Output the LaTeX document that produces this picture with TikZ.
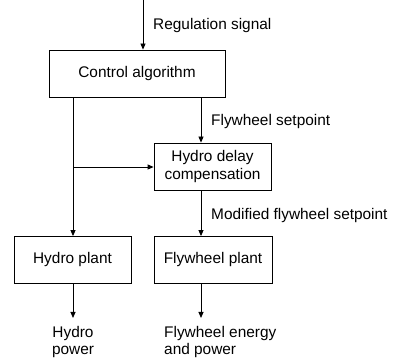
\documentclass[tikz,border=0pt]{standalone}
\usepackage{fontspec}
\setmainfont{Liberation Sans}
\usetikzlibrary{arrows.meta}
\begin{document}
\begin{tikzpicture}[x=1pt,y=-1pt,
  every node/.style={font=\fontsize{15.4}{17.5}\selectfont},
  blk/.style={draw,line width=0.8pt,minimum width=#1,minimum height=47pt,inner sep=0pt,align=center},
  conn/.style={line width=0.8pt,-{Triangle[length=6pt,width=5pt]}},
  lbl/.style={anchor=west,inner sep=0pt}]
\useasboundingbox (0,0) rectangle (394,363);
\node[blk=176pt] (ctrl) at (137,73.5) {Control algorithm};
\node[blk=117pt] (comp) at (212.5,166.5) {Hydro delay\\compensation};
\node[blk=117pt] (hydro) at (72.5,260) {Hydro plant};
\node[blk=118pt] (fly) at (213,260) {Flywheel plant};
\coordinate (top) at (143,0);
\coordinate (hout) at (73,318);
\coordinate (fout) at (201,318);
\coordinate (br) at (73,167);
\draw[conn] (top) -- (top |- ctrl.north);
\node[lbl] (reg) at (153,26) {Regulation signal};
\draw[conn] (ctrl.south -| fout) -- (comp.north -| fout);
\node[lbl] (fsp) at (211,122) {Flywheel setpoint};
\draw[conn] (ctrl.south -| br) -- (hydro.north -| br);
\draw[conn] (br) -- (comp.west |- br);
\draw[conn] (comp.south -| fout) -- (fly.north -| fout);
\node[lbl] (mfs) at (211,216) {Modified flywheel setpoint};
\draw[conn] (hydro.south -| hout) -- (hout);
\draw[conn] (fly.south -| fout) -- (fout);
\node[align=center,inner sep=0pt,anchor=north] (hp) at (73,326) {Hydro\\power};
\node[align=left,inner sep=0pt,anchor=north west] (fp) at (164,326) {Flywheel energy\\and power};
\end{tikzpicture}
\end{document}
